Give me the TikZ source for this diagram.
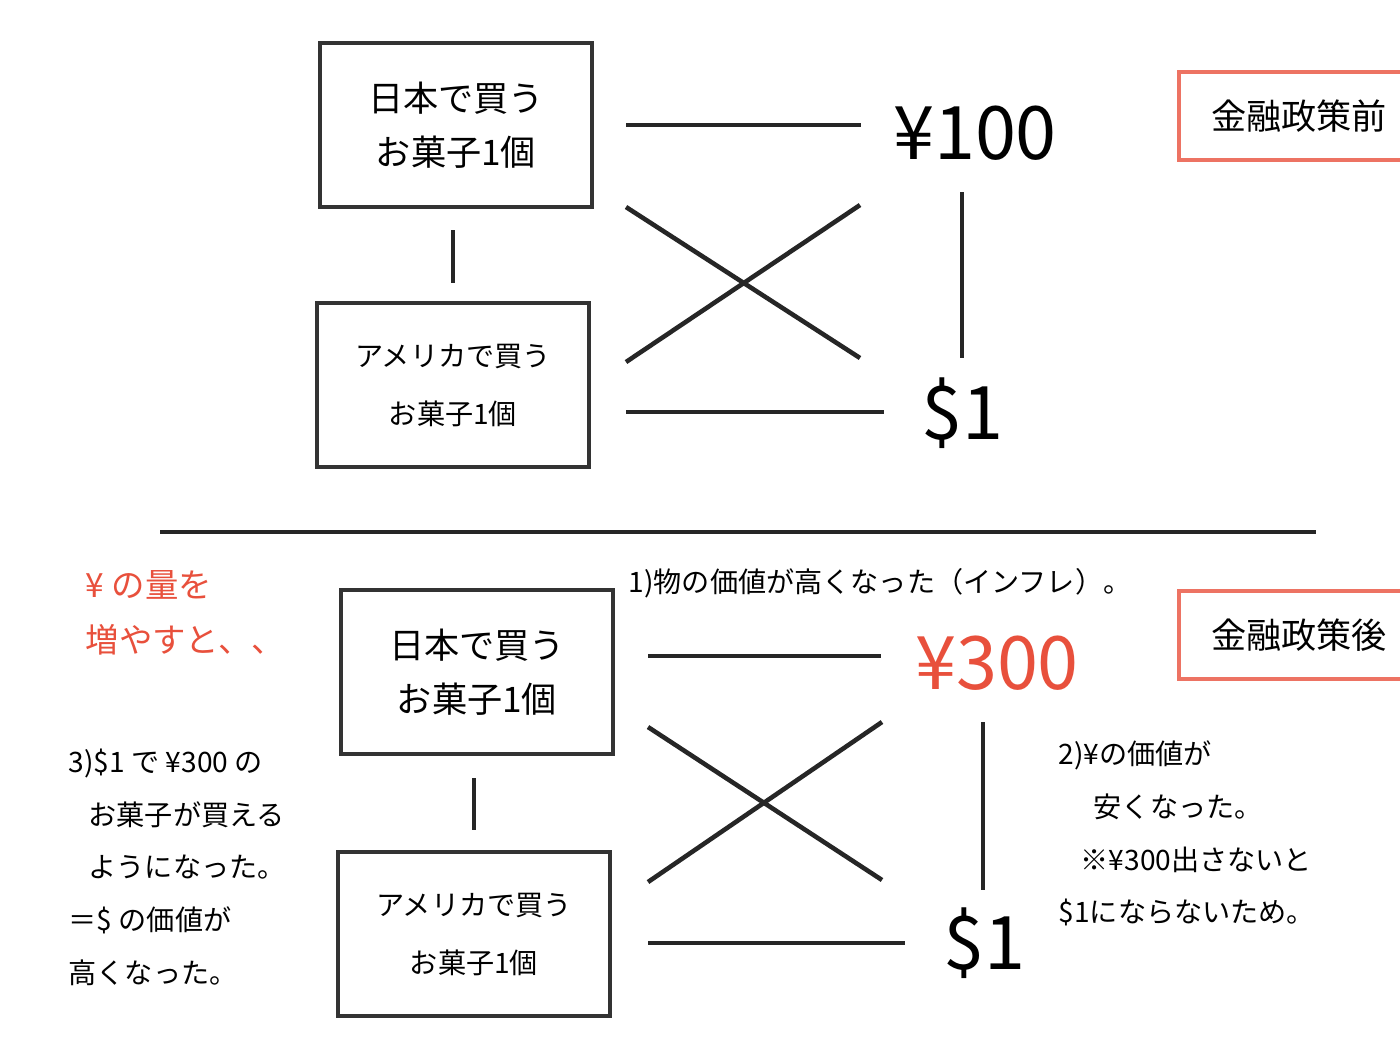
\documentclass[tikz,border=0pt]{standalone}
\usepackage{fontspec}
\setmainfont{Noto Sans CJK JP}
\usetikzlibrary{positioning}
\definecolor{redtxt}{RGB}{232,80,60}
\tikzset{
  item/.style={draw=black!80, line width=1.2pt, minimum width=2.72cm, minimum height=1.64cm, align=center},
  big/.style={font=\fontsize{10}{15.5}\selectfont},
  small/.style={font=\fontsize{8}{16.5}\selectfont},
  money/.style={font=\fontsize{21}{24}\selectfont},
  tag/.style={draw=redtxt!80, line width=1.2pt, minimum height=0.88cm, minimum width=2.4cm, anchor=west, inner sep=0.12cm, font=\fontsize{10}{12}\selectfont},
  note/.style={font=\fontsize{8}{15}\selectfont, align=left, anchor=north west, inner sep=0pt},
  bar/.style={line width=1.3pt, black!85}
}
\begin{document}
\begin{tikzpicture}[x=0.01cm,y=-0.01cm]
  \clip (0,0) rectangle (1400,1050);
  \useasboundingbox (0,0) rectangle (1400,1050);
  % before
  \node[item, big] (jp1) at (456,125) {日本で買う\\お菓子1個};
  \node[item, small] (us1) at (453,385) {アメリカで買う\\お菓子1個};
  \node[money] (yen1) at (975,133) {¥100};
  \node[money] (usd1) at (962,413) {\$1};
  \node[tag] (pre) at (1177,116) {金融政策前};
  \draw[bar] (453,230) -- (453,283);
  \draw[bar] (626,125) -- (861,125);
  \draw[bar] (626,412) -- (884,412);
  \draw[bar] (626,207) -- (860,358);
  \draw[bar] (626,362) -- (860,205);
  \draw[bar] (962,192) -- (962,358);
  \draw[bar] (160,532) -- (1316,532);
  % after
  \node[item, big] (jp2) at (477,672) {日本で買う\\お菓子1個};
  \node[item, small] (us2) at (474,934) {アメリカで買う\\お菓子1個};
  \node[money, text=redtxt] (yen2) at (997,663) {¥300};
  \node[money] (usd2) at (984,943) {\$1};
  \node[tag] (post) at (1177,635) {金融政策後};
  \draw[bar] (474,778) -- (474,830);
  \draw[bar] (648,656) -- (881,656);
  \draw[bar] (648,943) -- (905,943);
  \draw[bar] (648,727) -- (882,880);
  \draw[bar] (648,882) -- (882,722);
  \draw[bar] (983,722) -- (983,890);
  % notes
  \node[note, text=redtxt, font=\fontsize{9.5}{15.5}\selectfont] (more) at (85,570) {¥ の量を\\増やすと、、};
  \node[note] (n1) at (628,568) {1)物の価値が高くなった（インフレ）。};
  \node[note] (n3) at (68,748) {3)\$1 で ¥300 の\\\hspace{0.2cm}お菓子が買える\\\hspace{0.2cm}ようになった。\\＝\$ の価値が\\高くなった。};
  \node[note] (n2) at (1058,740) {2)¥の価値が\\\hspace{0.35cm}安くなった。\\\hspace{0.22cm}※¥300出さないと\\\$1にならないため。};
\end{tikzpicture}
\end{document}
